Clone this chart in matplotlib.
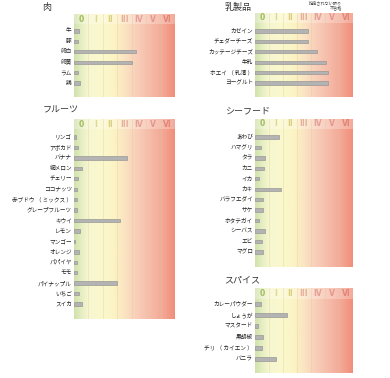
import matplotlib
matplotlib.use("Agg")
import matplotlib.pyplot as plt
import numpy as np
from matplotlib.colors import LinearSegmentedColormap

plt.rcParams['font.family'] = ['Noto Sans CJK JP', 'DejaVu Sans']

W, H = 390, 378

# class header labels
classes = ["0", "I", "II", "III", "IV", "V", "VI"]
class_colors = ["#9fbc5c", "#ddd98e", "#d9d083", "#e6b09c", "#e5a195", "#e4988c", "#e38676"]

# data (values in class units)
meat_items = ["牛", "豚", "卵白", "卵黄", "ラム", "鶏"]
meat_vals = [0.35, 0.3, 4.3, 4.0, 0.28, 0.42]

dairy_items = ["カゼイン", "チェダーチーズ", "カッテージチーズ", "牛乳", "ホエイ （ 乳清 ）", "ヨーグルト"]
dairy_vals = [3.8, 3.75, 4.4, 5.05, 5.2, 5.2]

fruit_items = ["リンゴ", "アボカド", "バナナ", "網メロン", "チェリー", "ココナッツ",
               "赤ブドウ （ ミックス ）", "グレープフルーツ", "キウイ", "レモン", "マンゴー",
               "オレンジ", "パパイヤ", "モモ", "パイナップル", "いちご", "スイカ"]
fruit_vals = [0.15, 0.3, 3.7, 0.55, 0.3, 0.2, 0.2, 0.2, 3.2, 0.4, 0.1,
              0.35, 0.2, 0.2, 3.0, 0.35, 0.55]

sea_items = ["あわび", "ハマグリ", "タラ", "カニ", "イカ", "カキ", "バラフエダイ",
             "サケ", "ホタテガイ", "シーバス", "エビ", "マグロ"]
sea_vals = [1.7, 0.45, 0.7, 0.65, 0.3, 1.85, 0.55, 0.55, 0.3, 0.7, 0.5, 0.55]

spice_items = ["カレーパウダー", "しょうが", "マスタード", "黒胡椒", "チリ （ カイエン ）", "バニラ"]
spice_vals = [0.45, 2.3, 0.2, 0.55, 0.5, 1.5]

bg_cmap = LinearSegmentedColormap.from_list("rast", [
    (0.0, "#cfe2ad"), (0.08, "#e8efc4"), (0.143, "#f7f6d0"),
    (0.30, "#fbf8cc"), (0.40, "#fbf3c4"), (0.50, "#fbe4c2"),
    (0.60, "#f9d2bc"), (0.75, "#f6bcaa"), (0.90, "#f3a492"), (1.0, "#f08e7a")])

fig = plt.figure(figsize=(W / 100, H / 100), dpi=100)


def panel(items, vals, title, left, right, top, bottom, header_y, first_y, step, title_x, title_y):
    ax = fig.add_axes([left / W, 1 - bottom / H, (right - left) / W, (bottom - top) / H])
    y0 = (top - first_y) / step
    y1 = (bottom - first_y) / step
    grad = np.linspace(0, 1, 256).reshape(1, -1)
    ax.imshow(grad, cmap=bg_cmap, extent=(0, 7, y1, y0), aspect="auto", zorder=0)
    # lighter header band
    hy = (header_y - first_y) / step
    ax.axhspan(y0, hy + 0.5, color="white", alpha=0.25, lw=0, zorder=1)
    for k in range(1, 7):
        ax.axvline(k, color="#d8cc98", lw=0.4, alpha=0.6, zorder=1)
    for k, c in enumerate(classes):
        ax.text(k + 0.5, hy, c, ha="center", va="center", fontsize=5.5,
                fontweight="bold", color=class_colors[k], family="DejaVu Sans")
    rows = np.arange(len(items))
    ax.barh(rows, vals, height=0.32, left=0, color="#b3b3b3", edgecolor="#8c8c8c",
            linewidth=0.4, zorder=3)
    for r, name in zip(rows, items):
        ax.text(-0.15, r, name, ha="right", va="center", fontsize=4.1, color="#222222")
    ax.set_xlim(0, 7)
    ax.set_ylim(y1, y0)
    ax.axis("off")
    fig.text(title_x / W, 1 - title_y / H, title, ha="left", va="center",
             fontsize=6.5, color="#333333")


panel(meat_items, meat_vals, "肉", 74, 175, 14, 97, 19, 31, 10.4, 42, 7)
panel(dairy_items, dairy_vals, "乳製品", 255, 353, 13, 97, 18, 31, 10.4, 225, 7)
panel(fruit_items, fruit_vals, "フルーツ", 74, 175, 119, 319, 124, 137, 10.44, 43, 110)
panel(sea_items, sea_vals, "シーフード", 255, 353, 119, 267, 124, 137, 10.45, 225, 111)
panel(spice_items, spice_vals, "スパイス", 255, 353, 288, 373, 293, 304, 11, 224, 280)

fig.text(342 / W, 1 - 3 / H, "指定されない限り", ha="right", va="center", fontsize=3, color="#444444")
fig.text(342 / W, 1 - 8 / H, "不合格", ha="right", va="center", fontsize=3, color="#444444")

fig.savefig("out.png", dpi=100)
